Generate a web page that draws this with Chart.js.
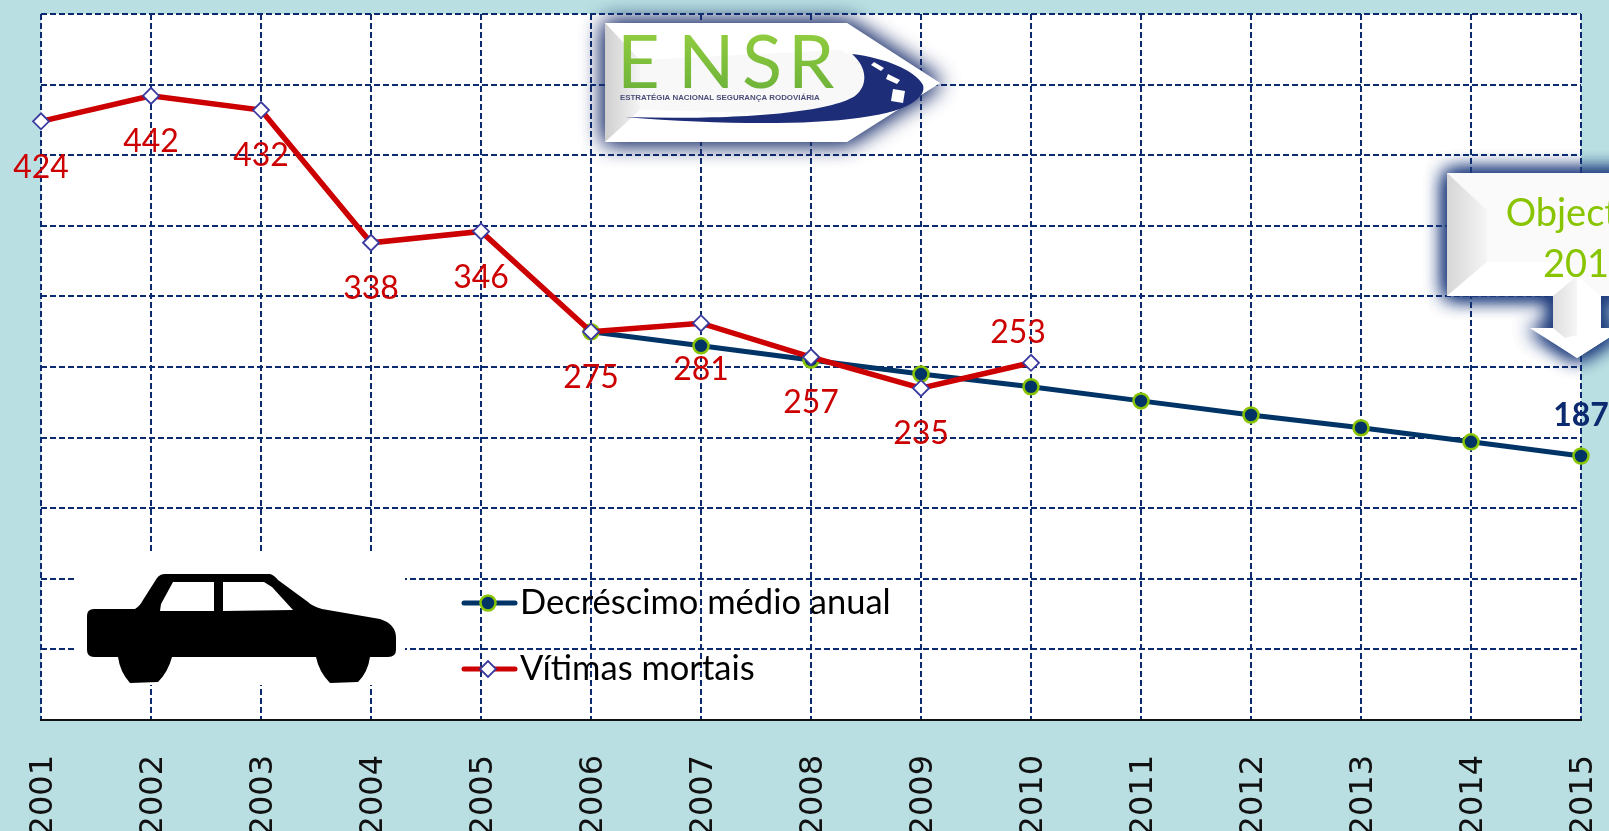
<!DOCTYPE html>
<html><head><meta charset="utf-8">
<style>html,body{margin:0;padding:0;background:#b9dfe2;overflow:hidden}canvas{display:block}</style>
<script src="https://cdn.jsdelivr.net/npm/chart.js@4"></script></head>
<body><canvas id="c" width="1609" height="831"></canvas>
<script>
const years = ['2001','2002','2003','2004','2005','2006','2007','2008','2009','2010','2011','2012','2013','2014','2015'];
const decrescimo = [null,null,null,null,null,275,265,255,245,236,226,216,207,197,187];
const vitimas = [424,442,432,338,346,275,281,257,235,253,null,null,null,null,null];
const decrescimoName = 'Decréscimo médio anual';
const vitimasName = 'Vítimas mortais';
const labelledDecrescimo = ['2015'];
const labelsAbove = ['2010'];
const objectiveLines = ['Objectivo','2015'];
const NAVY='#0b2a6f', RED='#cc0000', LINE_NAVY='#003366', LIME='#88c400', DIAMOND='#3a3a9f';
const TEXTFONT='Lato, "Open Sans", sans-serif';

function poly(ctx,pts){ctx.beginPath();pts.forEach((p,i)=>i?ctx.lineTo(p[0],p[1]):ctx.moveTo(p[0],p[1]));ctx.closePath();}

function drawCar(ctx){
  ctx.save();
  ctx.fillStyle='#fff';ctx.fillRect(77,552,328,133);
  ctx.fillStyle='#000';
  ctx.beginPath();
  ctx.moveTo(94,609);ctx.lineTo(135,609);ctx.quadraticCurveTo(140,606,143,600);
  ctx.lineTo(157,578);ctx.quadraticCurveTo(160,574,165,574);
  ctx.lineTo(270,574);ctx.quadraticCurveTo(274,575,278,580);
  ctx.lineTo(308,602);ctx.quadraticCurveTo(312,606,322,609);
  ctx.lineTo(380,619);ctx.quadraticCurveTo(396,624,396,638);
  ctx.lineTo(396,650);ctx.quadraticCurveTo(396,657,388,657);
  ctx.lineTo(370,657);ctx.quadraticCurveTo(368,672,358,682);ctx.lineTo(330,683);
  ctx.quadraticCurveTo(319,672,316,657);
  ctx.lineTo(172,657);ctx.quadraticCurveTo(168,672,158,682);ctx.lineTo(130,683);
  ctx.quadraticCurveTo(120,672,118,657);
  ctx.lineTo(94,657);ctx.quadraticCurveTo(87,657,87,650);
  ctx.lineTo(87,616);ctx.quadraticCurveTo(87,609,94,609);
  ctx.closePath();ctx.fill();
  ctx.fillStyle='#fff';
  poly(ctx,[[173,582],[214,582],[214,611],[160,611],[161,604]]);ctx.fill();
  poly(ctx,[[223,582],[264,582],[272,587],[293,610],[223,611]]);ctx.fill();
  ctx.restore();
}

function drawLogo(ctx){
  const shape=[[605,23],[847,23],[940,83],[847,142],[605,142]];
  ctx.save();
  ctx.save();
  ctx.shadowColor='rgba(30,50,110,0.95)';ctx.shadowBlur=22;
  ctx.fillStyle='#fff';poly(ctx,shape);ctx.fill();ctx.fill();
  ctx.restore();
  let g=ctx.createLinearGradient(605,0,640,0);g.addColorStop(0,'#cfcfcf');g.addColorStop(1,'#f4f4f4');
  ctx.fillStyle=g;poly(ctx,[[605,23],[640,60],[640,110],[605,142]]);ctx.fill();
  ctx.fillStyle='#f8f8f9';poly(ctx,[[640,60],[840,50],[905,83],[840,115],[640,110]]);ctx.fill();
  g=ctx.createLinearGradient(0,35,0,88);g.addColorStop(0,'#8fcb3e');g.addColorStop(1,'#6fb43a');
  ctx.fillStyle=g;ctx.textAlign='left';ctx.textBaseline='alphabetic';
  ctx.font='400 74px '+TEXTFONT;
  [['E',617],['N',678],['S',742],['R',788]].forEach(([t,x])=>ctx.fillText(t,x,88));
  ctx.fillStyle='#4b4f78';ctx.font='bold 7.9px "Liberation Sans", sans-serif';
  ctx.fillText('ESTRATÉGIA NACIONAL SEGURANÇA RODOVIÁRIA',620,100);
  ctx.fillStyle='#1d2d78';
  ctx.beginPath();ctx.moveTo(625,117);
  ctx.bezierCurveTo(720,120,825,115,855,96);
  ctx.bezierCurveTo(868,86,868,68,852,54);
  ctx.bezierCurveTo(885,58,915,70,923,85);
  ctx.bezierCurveTo(925,92,920,97,915,101);
  ctx.bezierCurveTo(885,125,760,128,625,117);
  ctx.closePath();ctx.fill();
  ctx.fillStyle='#fff';
  poly(ctx,[[874,62],[884,68],[881,71],[871,65]]);ctx.fill();
  poly(ctx,[[888,74],[900,80],[897,84],[886,79]]);ctx.fill();
  poly(ctx,[[893,89],[905,91],[903,103],[891,101]]);ctx.fill();
  ctx.restore();
}

function drawCallout(ctx){
  const shape=[[1447,173],[1720,173],[1720,296],[1601,296],[1601,328],[1624,328],[1577,358],[1530,328],[1553,328],[1553,296],[1447,296]];
  ctx.save();
  ctx.save();
  ctx.shadowColor='rgba(30,60,125,1)';ctx.shadowBlur=20;
  ctx.fillStyle='#fff';poly(ctx,shape);ctx.fill();ctx.fill();ctx.fill();
  ctx.restore();
  ctx.fillStyle='#fafafa';ctx.fillRect(1447,173,273,123);
  let g=ctx.createLinearGradient(1447,0,1487,0);g.addColorStop(0,'#d6d6d6');g.addColorStop(1,'#f5f5f5');
  ctx.fillStyle=g;poly(ctx,[[1447,173],[1487,210],[1487,262],[1447,296]]);ctx.fill();
  ctx.fillStyle='#ffffff';poly(ctx,[[1447,296],[1487,262],[1560,262],[1577,276],[1577,296]]);ctx.fill();
  g=ctx.createLinearGradient(1553,0,1577,0);g.addColorStop(0,'#dedede');g.addColorStop(1,'#f6f6f6');
  ctx.fillStyle=g;poly(ctx,[[1553,296],[1577,276],[1577,335],[1565,338],[1553,328]]);ctx.fill();
  ctx.fillStyle='#fff';poly(ctx,[[1577,276],[1601,296],[1601,328],[1624,328],[1577,358]]);ctx.fill();
  ctx.fillStyle=LIME;ctx.textAlign='center';ctx.textBaseline='middle';ctx.font='38px '+TEXTFONT;
  ctx.fillText(objectiveLines[0],1587,214);
  ctx.fillText(objectiveLines[1],1587,265);
  ctx.restore();
}

function drawLegend(chart){
  const ctx=chart.ctx;
  [[0,603],[1,669]].forEach(([i,y])=>{
    const ds=chart.data.datasets[i];
    ctx.save();
    ctx.strokeStyle=ds.borderColor;ctx.lineWidth=5;ctx.lineCap='round';
    ctx.beginPath();ctx.moveTo(464,y);ctx.lineTo(515,y);ctx.stroke();
    ctx.fillStyle=ds.pointBackgroundColor;ctx.strokeStyle=ds.pointBorderColor;ctx.lineWidth=ds.pointBorderWidth;
    Chart.helpers.drawPoint(ctx,{pointStyle:ds.pointStyle,radius:ds.pointRadius,borderWidth:ds.pointBorderWidth},488,y);
    ctx.fillStyle='#000';ctx.textAlign='left';ctx.textBaseline='middle';ctx.font='34.5px '+TEXTFONT;
    ctx.fillText(ds.label,520,y);
    ctx.restore();
  });
}

const decor={
  id:'decor',
  beforeDraw(chart){
    const {ctx,chartArea:a}=chart;
    ctx.save();ctx.fillStyle='#fff';ctx.fillRect(a.left,a.top,a.right-a.left,a.bottom-a.top);ctx.restore();
  },
  beforeDatasetsDraw(chart){drawCar(chart.ctx);},
  afterDatasetsDraw(chart){
    const ctx=chart.ctx;
    drawLogo(ctx);
    drawCallout(ctx);
    const red=chart.getDatasetMeta(1).data, navy=chart.getDatasetMeta(0).data;
    ctx.save();ctx.textAlign='center';ctx.textBaseline='middle';
    ctx.fillStyle=RED;ctx.font='32px '+TEXTFONT;
    vitimas.forEach((v,i)=>{
      if(v===null)return;
      const above=labelsAbove.includes(years[i]);
      ctx.fillText(String(v),red[i].x-(above?13:0),red[i].y+(above?-30:46));
    });
    ctx.fillStyle='#0b2a6f';ctx.font='bold 32px '+TEXTFONT;
    decrescimo.forEach((v,i)=>{
      if(v===null||!labelledDecrescimo.includes(years[i]))return;
      ctx.fillText(String(v),navy[i].x,navy[i].y-40);
    });
    ctx.restore();
    drawLegend(chart);
  }
};

new Chart(document.getElementById('c'),{
  type:'line',
  data:{labels:years,datasets:[
    {label:decrescimoName,data:decrescimo,order:1,borderColor:LINE_NAVY,borderWidth:5,tension:0,
     pointStyle:'circle',pointRadius:7.5,pointHoverRadius:7.5,pointBackgroundColor:LINE_NAVY,pointBorderColor:LIME,pointBorderWidth:2.5,clip:false},
    {label:vitimasName,data:vitimas,order:0,borderColor:RED,borderWidth:5.5,tension:0,
     pointStyle:'rectRot',pointRadius:8,pointHoverRadius:8,pointBackgroundColor:'#fff',pointBorderColor:DIAMOND,pointBorderWidth:1.8,clip:false}
  ]},
  options:{
    responsive:false,animation:false,
    layout:{padding:{left:41,right:28,top:14,bottom:0},autoPadding:false},
    plugins:{legend:{display:false},tooltip:{enabled:false},title:{display:false}},
    scales:{
      x:{type:'category',offset:false,
        grid:{color:NAVY,lineWidth:2,drawTicks:false},
        border:{display:true,color:'#111',width:2,dash:[6,3]},
        ticks:{color:'#111',font:{family:'"DejaVu Sans"',size:32},minRotation:90,maxRotation:90,padding:35,labelOffset:3,autoSkip:false},
        afterFit(s){s.height=111;s.paddingLeft=0;s.paddingRight=0;}
      },
      y:{min:0,max:500,
        grid:{color:NAVY,lineWidth:2,drawTicks:false},
        border:{display:false,dash:[6,3]},
        ticks:{display:false,stepSize:50},
        afterFit(s){s.width=0;}
      }
    }
  },
  plugins:[decor]
});
</script></body></html>
